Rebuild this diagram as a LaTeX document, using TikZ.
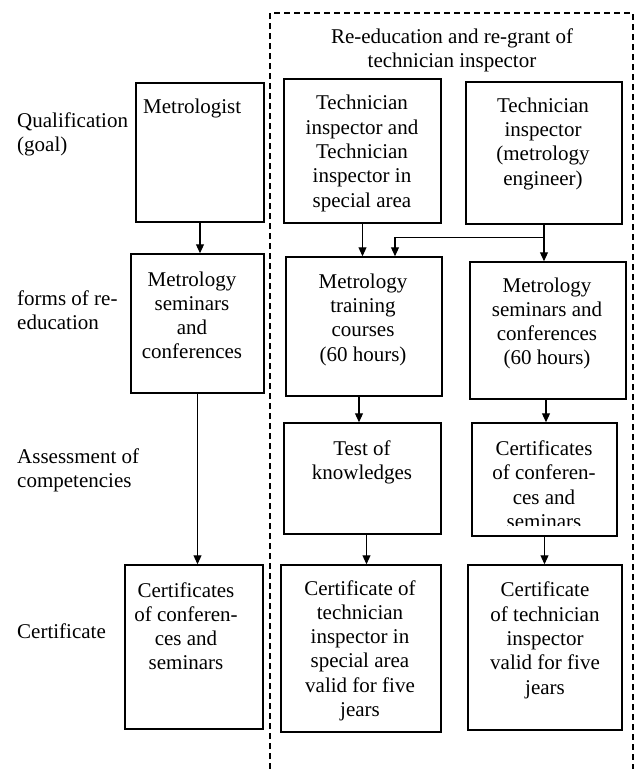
\documentclass[tikz,border=0pt]{standalone}
\usepackage{fontspec}
\setmainfont{Liberation Serif}
\usetikzlibrary{arrows.meta}
\begin{document}
\begin{tikzpicture}[x=1pt,y=-1pt,
  txt/.style={font=\fontsize{21}{24.3}\selectfont, inner sep=0pt},
  % texts are placed by the baseline of their last line
  boxtxt/.style={txt, align=center, anchor=base},
  sidetxt/.style={txt, align=left, anchor=base west},
  box/.style={draw, line width=1.5pt, rectangle, inner sep=0pt},
  arr/.style={line width=1.1pt, -{Triangle[length=9pt,width=8pt]}},
  frame/.style={line width=1.4pt, dash pattern=on 6pt off 4pt}]
\useasboundingbox (0,0) rectangle (641,769);

% outer dashed frame (open at the bottom)
\draw[frame] (270,769) -- (270,13) -- (633,13) -- (633,769);
\node[boxtxt] (title) at (452,67.3) {Re-education and re-grant of\\technician inspector};

% row labels
\node[sidetxt] (lq) at (17,151.3) {Qualification\\(goal)};
\node[sidetxt] (lf) at (17,329.3) {forms of re-\\education};
\node[sidetxt] (la) at (17,487.3) {Assessment of\\competencies};
\node[sidetxt] (lc) at (17,638) {Certificate};

% boxes
\node[box, minimum width=128pt, minimum height=139pt] (met)   at (200,152.5) {};
\node[box, minimum width=133pt, minimum height=139pt] (msc1)  at (197.5,323.5) {};
\node[box, minimum width=138pt, minimum height=164pt] (cert1) at (194,647) {};
\node[box, minimum width=157pt, minimum height=144pt] (ti)    at (362.5,151) {};
\node[box, minimum width=156pt, minimum height=142pt] (tie)   at (544,153) {};
\node[box, minimum width=156pt, minimum height=139pt] (mtc)   at (364,326.5) {};
\node[box, minimum width=156pt, minimum height=137pt] (msc2)  at (548,330.5) {};
\node[box, minimum width=157pt, minimum height=111pt] (test)  at (362.5,478.5) {};
\node[box, minimum width=145pt, minimum height=113pt] (cert2) at (544.5,479.5) {};
\node[box, minimum width=160pt, minimum height=167pt] (ctisa) at (361,648.5) {};
\node[box, minimum width=154pt, minimum height=165pt] (cti)   at (545,647.5) {};

% box texts
\node[sidetxt] (tmet) at (143,113) {Metrologist};
\node[boxtxt] (tmsc1) at (192,358.9) {Metrology\\seminars\\and\\conferences};
\node[boxtxt] (tcert1) at (186,669.9) {Certificates\\of conferen-\\ces and\\seminars};
\node[boxtxt] (tti) at (362,207) {Technician\\inspector and\\Technician\\inspector in\\special area};
\node[boxtxt] (ttie) at (543,185) {Technician\\inspector\\(metrology\\engineer)};
\node[boxtxt] (tmtc) at (363,361) {Metrology\\training\\courses\\(60 hours)};
\node[boxtxt] (tmsc2) at (547,364.9) {Metrology\\seminars and\\conferences\\(60 hours)};
\node[boxtxt] (ttest) at (362,479.3) {Test of\\knowledges};
% the last line of this text runs past the bottom of its box and is cut off
\begin{scope}
  \clip (473,424) rectangle (616,525);
  \node[boxtxt] (tcert2) at (544,528.5) {Certificates\\of conferen-\\ces and\\seminars};
\end{scope}
\node[boxtxt] (tctisa) at (360,716.5) {Certificate of\\technician\\inspector in\\special area\\valid for five\\jears};
\node[boxtxt] (tcti) at (545,694) {Certificate\\of technician\\inspector\\valid for five\\jears};

% connectors (y runs downward, so a downward shift is a negative yshift)
\draw[arr] (met.south) -- (met.south |- msc1.north);
\draw[arr] (msc1.south) -- (msc1.south |- cert1.north);
\draw[arr] (ti.south) -- (ti.south |- mtc.north);
\draw[arr] (tie.south) -- (tie.south |- msc2.north);
\coordinate (split) at ([yshift=-13pt]tie.south);
\draw[arr] (split) -| ([xshift=31pt]mtc.north);
\draw[arr] ([xshift=-5pt]mtc.south) -- ([xshift=-5pt]mtc.south |- test.north);
\draw[arr] ([xshift=-2pt]msc2.south) -- ([xshift=-2pt]msc2.south |- cert2.north);
\draw[arr] ([xshift=4pt]test.south) -- ([xshift=4pt]test.south |- ctisa.north);
\draw[arr] (cert2.south) -- (cert2.south |- cti.north);
\end{tikzpicture}
\end{document}
